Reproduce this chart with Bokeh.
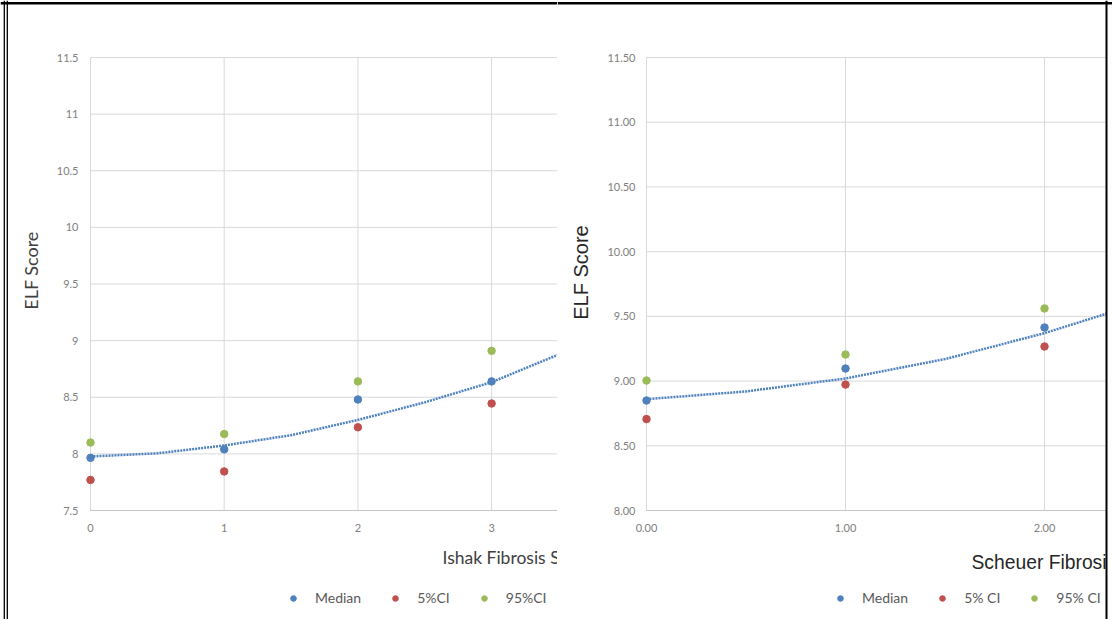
import math
from bokeh.plotting import figure
from bokeh.models import FixedTicker, Legend, LegendItem, Label, Span, BoxAnnotation
from bokeh.layouts import row
from bokeh.embed import file_html
from bokeh.resources import INLINE

# ---------------- data: Ishak panel ----------------
ishak_x = [0, 1, 2, 3]
ishak_median = [7.965, 8.04, 8.48, 8.64]
ishak_ci5 = [7.77, 7.845, 8.235, 8.445]
ishak_ci95 = [8.10, 8.175, 8.64, 8.91]
ishak_trend_x = [0, 0.5, 1, 1.5, 2, 2.5, 3, 3.5]
ishak_trend_y = [7.977, 8.005, 8.074, 8.165, 8.30, 8.455, 8.633, 8.877]
ishak_yticks = [7.5, 8, 8.5, 9, 9.5, 10, 10.5, 11, 11.5]
ishak_ylabels = ["7.5", "8", "8.5", "9", "9.5", "10", "10.5", "11", "11.5"]
ishak_xticks = [0, 1, 2, 3]
ishak_xlabels = ["0", "1", "2", "3"]
ishak_legend = ["Median", "5%CI", "95%CI"]

# ---------------- data: Scheuer panel ----------------
scheuer_x = [0, 1, 2]
scheuer_median = [8.85, 9.097, 9.414]
scheuer_ci5 = [8.706, 8.973, 9.267]
scheuer_ci95 = [9.004, 9.205, 9.561]
scheuer_trend_x = [0, 0.5, 1, 1.5, 2, 2.31]
scheuer_trend_y = [8.86, 8.92, 9.02, 9.17, 9.37, 9.52]
scheuer_yticks = [8.0, 8.5, 9.0, 9.5, 10.0, 10.5, 11.0, 11.5]
scheuer_ylabels = ["8.00", "8.50", "9.00", "9.50", "10.00", "10.50", "11.00", "11.50"]
scheuer_xticks = [0, 1, 2]
scheuer_xlabels = ["0.00", "1.00", "2.00"]
scheuer_legend = ["Median", "5% CI", "95% CI"]

BLUE = "#4f81bd"
RED = "#c0504d"
GREEN = "#9bbb59"
GRID = "#d9d9d9"
AXIS = "#c4c4c4"
TICK = "#808080"
H = 619


class Panel:
    """Figure whose frame fills the whole canvas; px <-> data helpers."""

    def __init__(self, width, x0_px, x_ppu, ytop_val, ytop_px, ybot_val, ybot_px):
        self.width = width
        self.x0_px = x0_px
        self.x_ppu = x_ppu
        self.y_ppu = (ybot_px - ytop_px) / (ytop_val - ybot_val)
        self.ytop_val, self.ytop_px = ytop_val, ytop_px
        xr = (self.xd(0), self.xd(width))
        yr = (self.yd(H), self.yd(0))
        self.p = figure(width=width, height=H, x_range=xr, y_range=yr,
                        output_backend="svg", toolbar_location=None,
                        min_border=0, min_border_left=0, min_border_right=0,
                        min_border_top=0, min_border_bottom=0)
        self.p.outline_line_color = None
        self.p.xgrid.grid_line_color = None
        self.p.ygrid.grid_line_color = None

    def xd(self, px):
        return (px - self.x0_px) / self.x_ppu

    def yd(self, py):
        return self.ytop_val - (py - self.ytop_px) / self.y_ppu


def build(panel, grid_end_px, x, med, lo, hi, tx, ty, yticks, ylabels,
          xticks, xlabels, ystandoff, xstandoff):
    p = panel.p
    gx_end = panel.xd(grid_end_px)
    ymin, ymax = yticks[0], yticks[-1]

    # axes drawn inside the frame at x = 0 and y = min
    p.xaxis.fixed_location = ymin
    p.xaxis.ticker = FixedTicker(ticks=xticks)
    p.xaxis.major_label_overrides = dict(zip([float(t) for t in xticks], xlabels))
    p.xaxis.bounds = (0, gx_end)
    p.xaxis.axis_line_color = AXIS
    p.xaxis.major_tick_line_color = None
    p.xaxis.minor_tick_line_color = None
    p.xaxis.major_tick_out = 0
    p.xaxis.minor_tick_out = 0
    p.xaxis.major_label_text_font = "Lato"
    p.xaxis.major_label_text_font_size = "11px"
    p.xaxis.major_label_text_color = TICK
    p.xaxis.major_label_standoff = xstandoff

    p.yaxis.fixed_location = 0
    p.yaxis.ticker = FixedTicker(ticks=yticks)
    p.yaxis.major_label_overrides = dict(zip([float(t) for t in yticks], ylabels))
    p.yaxis.axis_line_color = None
    p.yaxis.major_tick_line_color = None
    p.yaxis.minor_tick_line_color = None
    p.yaxis.major_tick_out = 0
    p.yaxis.minor_tick_out = 0
    p.yaxis.major_label_text_font = "Lato"
    p.yaxis.major_label_text_font_size = "11px"
    p.yaxis.major_label_text_color = TICK
    p.yaxis.major_label_standoff = ystandoff

    # gridlines
    p.segment(x0=[0] * len(yticks), y0=yticks, x1=[gx_end] * len(yticks), y1=yticks,
              line_color=GRID, line_width=1)
    p.segment(x0=xticks, y0=[ymin] * len(xticks), x1=xticks, y1=[ymax] * len(xticks),
              line_color=GRID, line_width=1)
    p.segment(x0=[0], y0=[ymin], x1=[gx_end], y1=[ymin], line_color=AXIS, line_width=1)

    # trend line (dotted)
    p.line(tx, ty, line_color=BLUE, line_width=2.5, line_dash="2 1", line_cap="butt")

    r_med = p.scatter(x, med, size=7.5, color=BLUE)
    r_lo = p.scatter(x, lo, size=7.5, color=RED)
    r_hi = p.scatter(x, hi, size=7.5, color=GREEN)
    return (r_med, r_lo, r_hi)


def add_legend(p, renderers, labels, loc, spacing):
    legend = Legend(items=[LegendItem(label=l, renderers=[r]) for l, r in zip(labels, renderers)],
                    orientation="horizontal", location=loc,
                    border_line_color=None, background_fill_alpha=0,
                    padding=0, margin=0, spacing=spacing,
                    glyph_width=14, glyph_height=16, label_standoff=15,
                    label_height=16,
                    label_text_font="Lato", label_text_font_size="14px",
                    label_text_color="#595959", label_text_baseline="middle")
    p.add_layout(legend, "center")


# ---------------- left panel (page x 0..557) ----------------
L = Panel(557, 90, 133.7, 11.5, 57, 7.5, 510)
r1 = build(L, 557, ishak_x, ishak_median, ishak_ci5, ishak_ci95,
           ishak_trend_x, ishak_trend_y, ishak_yticks, ishak_ylabels,
           ishak_xticks, ishak_xlabels, 12, 13)
p1 = L.p
add_legend(p1, r1, ishak_legend, (286, 13), 27)
p1.add_layout(Label(x=442, y=H - 557, x_units="screen", y_units="screen",
                    text="Ishak Fibrosis Score", text_font="Lato",
                    text_font_size="17.5px", text_color="#404040",
                    text_baseline="middle", text_align="left"))
p1.add_layout(Label(x=30, y=H - 270, x_units="screen", y_units="screen",
                    text="ELF Score", text_font="Lato", angle=math.pi / 2,
                    text_font_size="18px", text_color="#404040",
                    text_baseline="middle", text_align="center"))
# document frame lines
for xpx, w in ((3.8, 1.3), (6.8, 1.3)):
    p1.add_layout(Span(location=L.xd(xpx), dimension="height", line_color="black", line_width=w))
p1.add_layout(Span(location=L.yd(2.8), dimension="width", line_color="black", line_width=2.5))

# ---------------- right panel (page x 557..1112) ----------------
R = Panel(555, 646 - 557, 199.0, 11.5, 57, 8.0, 510)
r2 = build(R, 1105 - 557, scheuer_x, scheuer_median, scheuer_ci5, scheuer_ci95,
           scheuer_trend_x, scheuer_trend_y, scheuer_yticks, scheuer_ylabels,
           scheuer_xticks, scheuer_xlabels, 11, 13)
p2 = R.p
add_legend(p2, r2, scheuer_legend, (833 - 557, 13), 27)
p2.add_layout(Label(x=971 - 557, y=H - 562, x_units="screen", y_units="screen",
                    text="Scheuer Fibrosis Score", text_font="Liberation Sans",
                    text_font_size="19.3px", text_color="#262626",
                    text_baseline="middle", text_align="left"))
p2.add_layout(Label(x=580 - 557, y=H - 272, x_units="screen", y_units="screen",
                    text="ELF Score", text_font="Liberation Sans", angle=math.pi / 2,
                    text_font_size="20px", text_color="#262626",
                    text_baseline="middle", text_align="center"))
# page beyond the document's right edge is blank
p2.add_layout(BoxAnnotation(left=R.xd(1106 - 557), fill_color="white", fill_alpha=1.0,
                            line_color=None))
p2.add_layout(Span(location=R.xd(1106 - 557), dimension="height", line_color="black", line_width=2))
p2.add_layout(Span(location=R.yd(2.8), dimension="width", line_color="black", line_width=2.5))

layout = row(p1, p2)
open("out.html", "w").write(file_html(layout, INLINE))
